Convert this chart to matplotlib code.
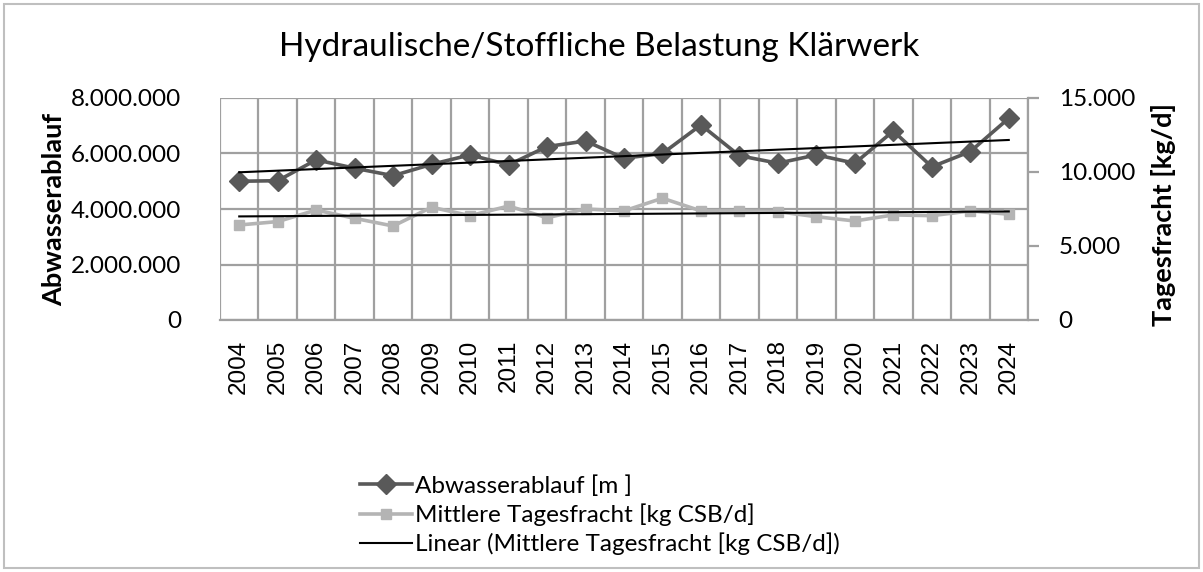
import numpy as np
import matplotlib
matplotlib.use("Agg")
import matplotlib.pyplot as plt
from matplotlib.ticker import FuncFormatter, MultipleLocator
from matplotlib.patches import Rectangle

years = [str(y) for y in range(2004, 2025)]
abwasser = [5000000, 5020000, 5770000, 5470000, 5200000, 5610000, 5950000, 5590000,
            6250000, 6450000, 5830000, 6000000, 7030000, 5920000, 5650000, 5950000,
            5650000, 6810000, 5520000, 6070000, 7270000]
fracht = [6420, 6650, 7430, 6870, 6350, 7620, 7050, 7700, 6910, 7500, 7370,
          8230, 7370, 7370, 7320, 6980, 6690, 7100, 7050, 7370, 7150]

title = "Hydraulische/Stoffliche Belastung Klärwerk"
ylabel_left = "Abwasserablauf"
ylabel_right = "Tagesfracht [kg/d]"
legend_labels = ["Abwasserablauf [m ]", "Mittlere Tagesfracht [kg CSB/d]",
                 "Linear (Mittlere Tagesfracht [kg CSB/d])"]

FONT = "Lato"
W, H = 1203, 572
fig = plt.figure(figsize=(W / 100, H / 100), dpi=100)

ax1 = fig.add_axes([220 / W, 1 - 320 / H, (1028 - 220) / W, (320 - 98) / H])
ax2 = ax1.twinx()

x = np.arange(len(years))
grid_c = "#a0a0a0"
dark = "#595959"
light = "#b4b4b4"

ax1.set_xlim(-0.5, len(years) - 0.5)
ax1.set_ylim(0, 8000000)
ax2.set_ylim(0, 15000)

ax1.yaxis.set_major_locator(MultipleLocator(2000000))
ax2.yaxis.set_major_locator(MultipleLocator(5000))
for b in np.arange(-0.5, len(years) + 0.5, 1):
    ax1.axvline(b, color=grid_c, lw=1.6, zorder=0)
for v in np.arange(0, 8000001, 2000000):
    ax1.axhline(v, color=grid_c, lw=1.6, zorder=0)

l1, = ax1.plot(x, abwasser, color=dark, lw=2.6, marker="D", markersize=10.5, zorder=3)
cz = np.polyfit(x, abwasser, 1)
ax1.plot(x, np.polyval(cz, x), color="black", lw=1.5, zorder=4)

l2, = ax2.plot(x, fracht, color=light, lw=2.6, marker="s", markersize=6.5, zorder=3)
cf = np.polyfit(x, fracht, 1)
l3, = ax2.plot(x, np.polyval(cf, x), color="black", lw=1.5, zorder=4)

fmt = FuncFormatter(lambda v, p: f"{int(round(v)):,}".replace(",", "."))
ax1.yaxis.set_major_formatter(fmt)
ax2.yaxis.set_major_formatter(fmt)

for a in (ax1, ax2):
    for s in a.spines.values():
        s.set_visible(False)
ax2.spines["right"].set_visible(True)
ax2.spines["right"].set_color(grid_c)
ax2.spines["right"].set_linewidth(1.6)
ax2.spines["bottom"].set_visible(True)
ax2.spines["bottom"].set_color(grid_c)
ax2.spines["bottom"].set_linewidth(1.6)

ax1.set_xticks(x)
ax1.set_xticklabels(years, rotation=90, fontsize=17.5, family="Liberation Sans")
ax1.tick_params(axis="x", length=0, pad=14)
ax1.tick_params(axis="y", length=0, pad=28, labelsize=17.5)
for t in ax1.get_yticklabels():
    t.set_family(FONT)
ax2.tick_params(axis="y", length=8, width=1.6, color=grid_c, pad=14, labelsize=17.5)
for t in ax2.get_yticklabels():
    t.set_family(FONT)

fig.text(54 / W, 1 - 209 / H, ylabel_left, rotation=90, ha="center", va="center",
         fontsize=19.5, family=FONT, fontweight="bold")
fig.text(1163 / W, 1 - 215 / H, ylabel_right, rotation=90, ha="center", va="center",
         fontsize=19.5, family=FONT, fontweight="bold")
fig.text(599 / W, 1 - 47 / H, title, ha="center", va="center", fontsize=24, family=FONT)

fig.legend([l1, l2, l3], legend_labels, loc="upper left",
           bbox_to_anchor=(360 / W, 1 - 475 / H), frameon=False,
           prop={"family": FONT, "size": 17.5}, handlelength=2.14, handletextpad=0.12,
           labelspacing=0.28, borderpad=0, borderaxespad=0)

fig.add_artist(Rectangle((4 / W, 4 / H), (W - 8) / W, (H - 8) / H, transform=fig.transFigure,
                         fill=False, edgecolor="#bfbfbf", lw=1.5))

fig.savefig("out.png", dpi=100)
